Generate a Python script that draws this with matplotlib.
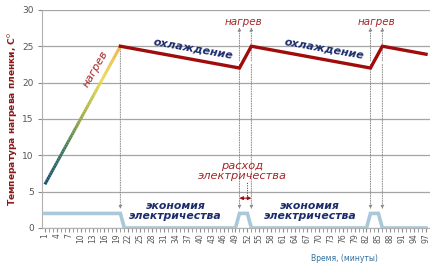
import numpy as np
import matplotlib
matplotlib.use("Agg")
import matplotlib.pyplot as plt
from matplotlib.collections import LineCollection
from matplotlib.colors import LinearSegmentedColormap

# time in minutes (categories 1..97)
minutes = np.arange(1, 98)

# temperature key points (minute, degrees)
heat_x = [1, 20]
heat_y = [6, 25]
cool_x = [20, 50, 53, 83, 86, 97]
cool_y = [25, 22, 25, 22, 25, 23.9]

# power consumption key points
power_x = [1, 20, 21, 49, 50, 52, 53, 82, 83, 85, 86, 97]
power_y = [2, 2, 0, 0, 2, 2, 0, 0, 2, 2, 0, 0]

tick_labels = [str(m) for m in minutes[::3]]

fig = plt.figure(figsize=(4.3, 2.74), dpi=100)
ax = fig.add_axes([0.098, 0.168, 0.902, 0.796])

ax.set_xlim(0.3, 98)
ax.set_ylim(0, 30)
ax.set_yticks(range(0, 31, 5))
ax.set_xticks(minutes[::3])
ax.set_xticklabels(tick_labels, rotation=90)
ax.set_xticks(minutes, minor=True)
ax.tick_params(axis='x', which='both', colors='#8a8a8a', labelsize=5.5,
               length=3, pad=1, labelcolor='#555555')
ax.tick_params(axis='y', colors='#8a8a8a', labelsize=6.5, length=3,
               labelcolor='#555555', pad=3)
ax.yaxis.grid(True, color='#a5a5a5', lw=0.9)
ax.set_axisbelow(True)
for s in ['top', 'right']:
    ax.spines[s].set_visible(False)
ax.spines['left'].set_color('#b0b0b0')
ax.spines['bottom'].set_color('#b0b0b0')

# power line
ax.plot(power_x, power_y, color='#a9c8da', lw=2.6, solid_joinstyle='miter', zorder=3)

# heating segment with gradient
hx = np.linspace(heat_x[0], heat_x[1], 60)
hy = np.interp(hx, heat_x, heat_y)
pts = np.array([hx, hy]).T.reshape(-1, 1, 2)
segs = np.concatenate([pts[:-1], pts[1:]], axis=1)
cmap = LinearSegmentedColormap.from_list(
    'heat', ['#1a4e6e', '#3f7a5a', '#a8b040', '#e8dc60', '#f0b040'])
lc = LineCollection(segs, cmap=cmap, norm=plt.Normalize(6, 25), lw=2.2, zorder=4)
lc.set_array(hy[:-1])
ax.add_collection(lc)

# cooling / reheating line
ax.plot(cool_x, cool_y, color='#a00c0c', lw=2.4, solid_joinstyle='miter', zorder=4)

# dotted guide arrows
dot = dict(arrowstyle='-|>', color='#8a8a8a', lw=0.7, ls=(0, (1, 1.5)),
           mutation_scale=5, shrinkA=0, shrinkB=0)
ax.annotate('', xy=(20, 2.6), xytext=(20, 25), arrowprops=dot, zorder=2)
for x in [50, 53, 83, 86]:
    ax.annotate('', xy=(x, 2.6), xytext=(x, 22.5), arrowprops=dot, zorder=2)
    ax.annotate('', xy=(x, 27.6), xytext=(x, 23), arrowprops=dot, zorder=2)

# double arrow for consumption
ax.annotate('', xy=(50, 4.1), xytext=(53, 4.1),
            arrowprops=dict(arrowstyle='<|-|>', color='#a30f0f', lw=0.8,
                            mutation_scale=5, shrinkA=0, shrinkB=0))
ax.plot([51.8, 51.8], [4.1, 6.4], color='#a30f0f', lw=0.7, ls=(0, (1, 1.5)))

red = '#a32828'
navy = '#1c2c6c'
ax.text(13.8, 21.9, 'нагрев', rotation=60, color=red, fontsize=8,
        style='italic', ha='center', va='center')
for x in [51.0, 84.4]:
    ax.text(x, 28.3, 'нагрев', color=red, fontsize=7.5, style='italic',
            ha='center', va='center')
for x in [38.3, 71.4]:
    ax.text(x, 24.7, 'охлаждение', rotation=-10, color=navy, fontsize=8,
            style='italic', fontweight='bold', ha='center', va='center')
ax.text(50.7, 7.8, 'расход\nэлектричества', color=red, fontsize=8.2,
        style='italic', ha='center', va='center', linespacing=1.0)
for x in [33.9, 67.8]:
    ax.text(x, 2.3, 'экономия\nэлектричества', color=navy, fontsize=7.8,
            style='italic', fontweight='bold', ha='center', va='center',
            linespacing=1.0)

ax.set_ylabel('Температура нагрева пленки, С$^{0}$', color='#8b1a1a',
              fontsize=6.6, fontweight='bold')
ax.yaxis.set_label_coords(-0.057, 0.5)
fig.text(0.80, 0.055, 'Время, (минуты)', color='#2f6fa0', fontsize=5.5,
         ha='center', va='center')

fig.savefig('out.png', dpi=100)
